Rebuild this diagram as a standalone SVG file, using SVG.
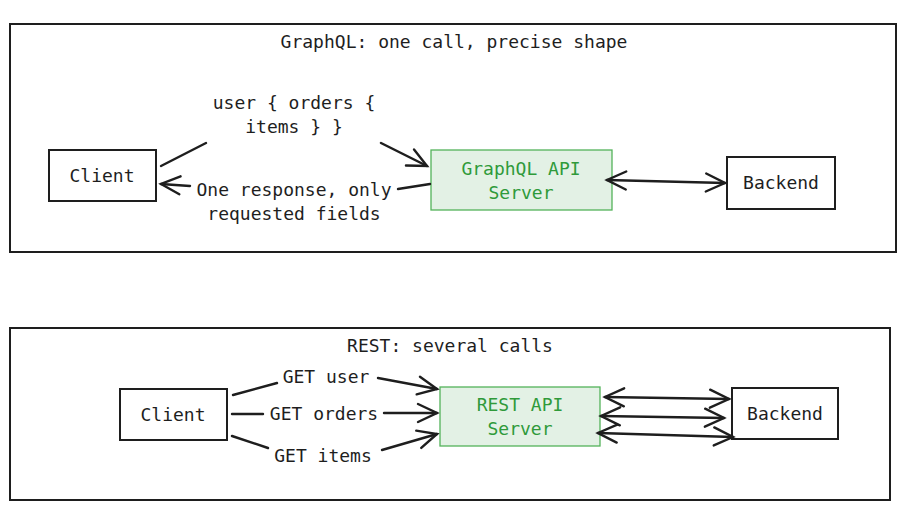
<svg xmlns="http://www.w3.org/2000/svg" width="908" height="514" viewBox="0 0 908 514">
<style>
text{font-family:"DejaVu Sans Mono","Liberation Mono",monospace;font-size:18px;fill:#1e1e1e;text-anchor:middle;dominant-baseline:central}
.frame{fill:#fff;stroke:#1e1e1e;stroke-width:2}
.box{fill:#fff;stroke:#1e1e1e;stroke-width:2}
.srv{fill:#e3f1e5;stroke:#53b35a;stroke-width:1.3}
.srvt{fill:#2f9a3a}
.c{fill:none;stroke:#1e1e1e;stroke-width:2.4;stroke-linecap:round}
</style>
<defs>
<marker id="ah" markerUnits="userSpaceOnUse" markerWidth="26" markerHeight="26" refX="21" refY="11" orient="auto-start-reverse" viewBox="0 0 26 22">
<path d="M2,2 L21,11 L2,20" fill="none" stroke="#1e1e1e" stroke-width="2.4" stroke-linecap="round"/>
</marker>
</defs>
<rect width="908" height="514" fill="#fff"/>
<g id="frame-graphql">
<rect class="frame" x="10" y="24" width="886" height="228"/>
<text x="454" y="41">GraphQL: one call, precise shape</text>
</g>
<g id="frame-rest">
<rect class="frame" x="10" y="328" width="880" height="172"/>
<text x="450" y="345">REST: several calls</text>
</g>
<g id="gql-client">
<rect class="box" x="49" y="150" width="107" height="51"/>
<text x="102" y="175">Client</text>
</g>
<g id="gql-server">
<rect class="srv" x="431" y="150" width="181" height="60"/>
<text class="srvt" x="521" y="168">GraphQL API</text>
<text class="srvt" x="521" y="192">Server</text>
</g>
<g id="gql-backend">
<rect class="box" x="727" y="157" width="108" height="52"/>
<text x="781" y="182">Backend</text>
</g>
<g id="rest-client">
<rect class="box" x="120" y="389" width="107" height="51"/>
<text x="173" y="414">Client</text>
</g>
<g id="rest-server">
<rect class="srv" x="440" y="387" width="160" height="59"/>
<text class="srvt" x="520" y="404">REST API</text>
<text class="srvt" x="520" y="428">Server</text>
</g>
<g id="rest-backend">
<rect class="box" x="732" y="388" width="106" height="51"/>
<text x="785" y="413">Backend</text>
</g>
<g id="connectors">
<line class="c" x1="161" y1="166" x2="206" y2="143"/>
<line class="c" x1="381" y1="143" x2="427" y2="166" marker-end="url(#ah)"/>
<text x="294" y="102">user { orders {</text>
<text x="294" y="126">items } }</text>
<line class="c" x1="430" y1="184" x2="398" y2="189"/>
<line class="c" x1="190" y1="186" x2="161" y2="184" marker-end="url(#ah)"/>
<text x="294" y="189">One response, only</text>
<text x="294" y="213">requested fields</text>
<line class="c" x1="607" y1="180" x2="725" y2="183" marker-start="url(#ah)" marker-end="url(#ah)"/>
<line class="c" x1="233" y1="395" x2="277" y2="383"/>
<line class="c" x1="378" y1="378" x2="437" y2="389" marker-end="url(#ah)"/>
<text x="326" y="376">GET user</text>
<line class="c" x1="232" y1="414" x2="263" y2="414"/>
<line class="c" x1="384" y1="413" x2="437" y2="413" marker-end="url(#ah)"/>
<text x="324" y="413">GET orders</text>
<line class="c" x1="232" y1="436" x2="268" y2="448"/>
<line class="c" x1="382" y1="450" x2="437" y2="434" marker-end="url(#ah)"/>
<text x="323" y="455">GET items</text>
<line class="c" x1="605" y1="397" x2="729" y2="399" marker-start="url(#ah)" marker-end="url(#ah)"/>
<line class="c" x1="601" y1="416" x2="724" y2="418" marker-start="url(#ah)" marker-end="url(#ah)"/>
<line class="c" x1="598" y1="433" x2="733" y2="437" marker-start="url(#ah)" marker-end="url(#ah)"/>
</g>
</svg>
